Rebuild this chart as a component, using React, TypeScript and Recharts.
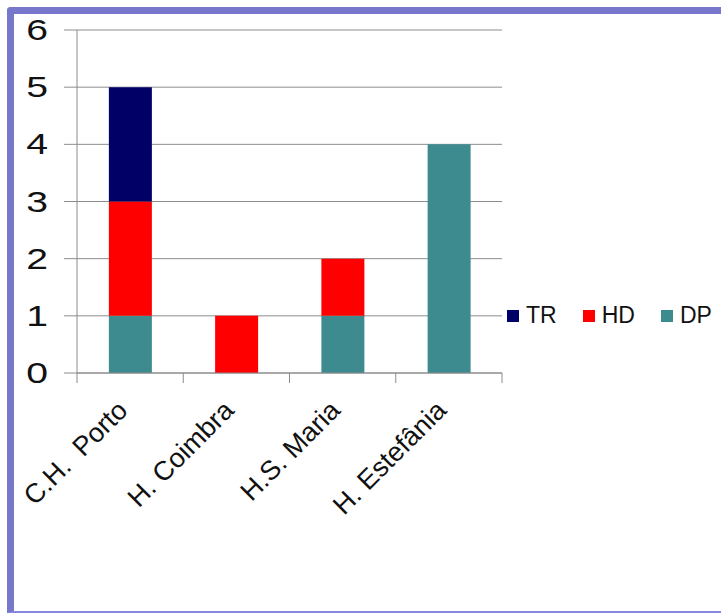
import React from 'react';
import { BarChart, Bar, XAxis, YAxis, CartesianGrid, Legend } from 'recharts';

// hospitals on the x axis
const hospitals = ['C.H.  Porto', 'H. Coimbra', 'H.S. Maria', 'H. Estefânia'];
// stacked series, bottom to top
const dpValues = [1, 0, 1, 4];
const hdValues = [2, 1, 1, 0];
const trValues = [2, 0, 0, 0];
const yTicks = [0, 1, 2, 3, 4, 5, 6];

const COLORS = { TR: '#000066', HD: '#ff0000', DP: '#3d8b8f' };
const FONT = '"Liberation Sans", Arial, sans-serif';
const BAND = 106.25;

const data = hospitals.map((name, i) => ({
  name,
  DP: dpValues[i],
  HD: hdValues[i],
  TR: trValues[i],
}));

const YTick = ({ x, y, payload }: any) => (
  <text
    transform={`translate(${x - 14}, ${y}) scale(1.35, 1)`}
    textAnchor="end"
    dominantBaseline="central"
    fontSize={29}
    fontFamily={FONT}
    fill="#111"
  >
    {payload.value}
  </text>
);

const XTick = ({ x, y, payload, index }: any) => {
  const left = x - BAND / 2;
  const right = x + BAND / 2;
  return (
    <g>
      <line x1={left} y1={y - 8} x2={left} y2={y + 2} stroke="#8c8c8c" />
      {index === hospitals.length - 1 && (
        <line x1={right} y1={y - 8} x2={right} y2={y + 2} stroke="#8c8c8c" />
      )}
      <text
        transform={`translate(${x - 1}, ${y + 31}) rotate(-45)`}
        textAnchor="end"
        fontSize={27}
        fontFamily={FONT}
        fill="#111"
        style={{ whiteSpace: 'pre' }}
      >
        {payload.value}
      </text>
    </g>
  );
};

const LegendContent = () => (
  <div style={{ display: 'flex', alignItems: 'center', fontFamily: FONT, fontSize: 23, color: '#111' }}>
    {(['TR', 'HD', 'DP'] as const).map((k) => (
      <div key={k} style={{ display: 'flex', alignItems: 'center', marginRight: 26 }}>
        <span style={{ width: 12, height: 12, background: COLORS[k], display: 'inline-block', marginRight: 7 }} />
        <span>{k}</span>
      </div>
    ))}
  </div>
);

export default function App() {
  return (
    <div style={{ position: 'absolute', left: 0, top: 0, width: 721, height: 613, background: '#fff' }}>
      <div
        style={{
          position: 'absolute',
          left: 7,
          top: 7,
          width: 714,
          height: 606,
          borderLeft: '7px solid #7777cc',
          borderTop: '7px solid #7777cc',
          borderBottom: '2px solid #8888dd',
          borderTopLeftRadius: 4,
          boxSizing: 'border-box',
        }}
      />
      <div style={{ position: 'absolute', left: 0, top: 0 }}>
        <BarChart
          width={721}
          height={613}
          data={data}
          margin={{ top: 30, right: 219, left: 0, bottom: 0 }}
          barCategoryGap="30%"
        >
          <CartesianGrid horizontal vertical={false} stroke="#8c8c8c" />
          <XAxis
            dataKey="name"
            height={240}
            interval={0}
            tickLine={false}
            axisLine={{ stroke: '#8c8c8c' }}
            tick={<XTick />}
          />
          <YAxis
            width={77}
            domain={[0, 6]}
            ticks={yTicks}
            interval={0}
            tickSize={13}
            tickLine={{ stroke: '#8c8c8c' }}
            axisLine={{ stroke: '#8c8c8c' }}
            tick={<YTick />}
          />
          <Legend
            layout="horizontal"
            verticalAlign="middle"
            align="center"
            content={<LegendContent />}
            wrapperStyle={{ position: 'absolute', left: 507, top: 302, width: 214 }}
          />
          <Bar dataKey="DP" stackId="a" fill={COLORS.DP} isAnimationActive={false} />
          <Bar dataKey="HD" stackId="a" fill={COLORS.HD} isAnimationActive={false} />
          <Bar dataKey="TR" stackId="a" fill={COLORS.TR} isAnimationActive={false} />
        </BarChart>
      </div>
    </div>
  );
}
